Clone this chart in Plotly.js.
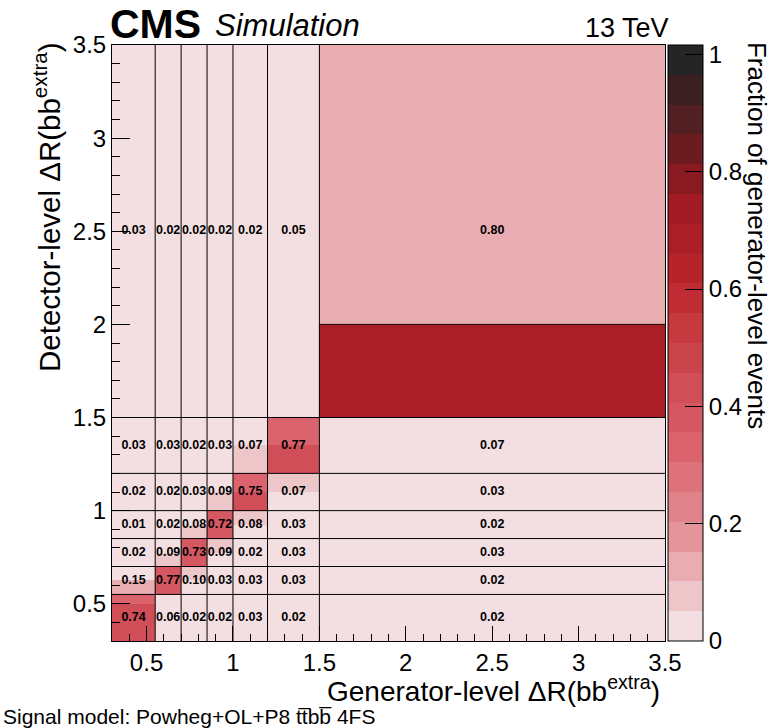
<!DOCTYPE html>
<html>
<head>
<meta charset="utf-8">
<script src="https://cdn.plot.ly/plotly-3.0.1.min.js"></script>
<style>html,body{margin:0;padding:0;background:#fff;}#chart{width:773px;height:728px;}</style>
</head>
<body>
<div id="chart"></div>
<script>
// Generator-level (x) bin edges
const xEdges = [0.3, 0.55, 0.7, 0.85, 1.0, 1.2, 1.5, 3.5];
// Detector-level coarse bin edges (text labels)
const yEdgesCoarse = [0.3, 0.55, 0.7, 0.85, 1.0, 1.2, 1.5, 3.5];
// Detector-level fine bin edges (colour cells)
const yEdgesFine = [0.3, 0.5, 0.55, 0.625, 0.7, 0.775, 0.85, 0.925, 1.0, 1.1, 1.2, 1.35, 1.5, 2.0, 3.5];

// Fine-bin fractions (rows bottom -> top, columns left -> right)
const fineFractions = [
  [0.43, 0.03, 0.01, 0.01, 0.02, 0.01, 0.01],
  [0.31, 0.03, 0.01, 0.01, 0.01, 0.01, 0.01],
  [0.12, 0.39, 0.03, 0.02, 0.02, 0.02, 0.01],
  [0.03, 0.38, 0.07, 0.01, 0.01, 0.01, 0.01],
  [0.01, 0.07, 0.37, 0.02, 0.01, 0.02, 0.02],
  [0.01, 0.02, 0.36, 0.07, 0.01, 0.01, 0.01],
  [0.005, 0.01, 0.06, 0.36, 0.02, 0.02, 0.01],
  [0.005, 0.01, 0.02, 0.36, 0.06, 0.01, 0.01],
  [0.01, 0.01, 0.02, 0.07, 0.44, 0.01, 0.02],
  [0.01, 0.01, 0.01, 0.02, 0.31, 0.06, 0.01],
  [0.02, 0.02, 0.01, 0.02, 0.06, 0.45, 0.04],
  [0.01, 0.01, 0.01, 0.01, 0.01, 0.32, 0.03],
  [0.02, 0.01, 0.01, 0.01, 0.01, 0.04, 0.69],
  [0.01, 0.01, 0.01, 0.01, 0.01, 0.01, 0.11]
];

// Coarse-bin fractions printed in the cells (rows bottom -> top)
const coarseFractions = [
  [0.74, 0.06, 0.02, 0.02, 0.03, 0.02, 0.02],
  [0.15, 0.77, 0.10, 0.03, 0.03, 0.03, 0.02],
  [0.02, 0.09, 0.73, 0.09, 0.02, 0.03, 0.03],
  [0.01, 0.02, 0.08, 0.72, 0.08, 0.03, 0.02],
  [0.02, 0.02, 0.03, 0.09, 0.75, 0.07, 0.03],
  [0.03, 0.03, 0.02, 0.03, 0.07, 0.77, 0.07],
  [0.03, 0.02, 0.02, 0.02, 0.02, 0.05, 0.80]
];

// Palette levels (bottom -> top)
const paletteColors = ['#F3DFE1','#EDC6C9','#E8ACB1','#E4959C','#E0828A','#DD727B','#DA636D','#D55761','#CF4E57','#C9444B','#C5393F','#C02C34','#B6232A','#AB1E27','#A11A24','#8A1A22','#6C1B20','#521F22','#3B2022','#252525'];
const zMax = 1.016;
const cbTicks = [0, 0.2, 0.4, 0.6, 0.8, 1];

const colorscale = [];
paletteColors.forEach((c, i) => {
  colorscale.push([i / paletteColors.length, c]);
  colorscale.push([(i + 1) / paletteColors.length, c]);
});

const font = 'Liberation Sans, Arial, sans-serif';

const heat = {
  type: 'heatmap',
  x: xEdges,
  y: yEdgesFine,
  z: fineFractions,
  zmin: 0, zmax: zMax,
  zsmooth: false,
  colorscale: colorscale,
  hoverinfo: 'skip',
  colorbar: {
    x: 1.006, xanchor: 'left', xpad: 0,
    y: 0.5, yanchor: 'middle', ypad: 0,
    len: 1, lenmode: 'fraction',
    thickness: 35, thicknessmode: 'pixels',
    outlinewidth: 1, outlinecolor: '#000',
    tickvals: cbTicks, ticktext: cbTicks.map(String),
    ticks: 'inside', ticklen: 18, tickcolor: '#000', tickwidth: 1,
    tickfont: {family: font, size: 24, color: '#000'}
  }
};

const cx = [], cy = [], ct = [];
for (let r = 0; r < coarseFractions.length; r++) {
  for (let c = 0; c < coarseFractions[r].length; c++) {
    cx.push((xEdges[c] + xEdges[c + 1]) / 2);
    cy.push((yEdgesCoarse[r] + yEdgesCoarse[r + 1]) / 2);
    ct.push('<b>' + coarseFractions[r][c].toFixed(2) + '</b>');
  }
}
const labels = {
  type: 'scatter', mode: 'text', x: cx, y: cy, text: ct,
  textposition: 'middle center', hoverinfo: 'skip', showlegend: false,
  textfont: {family: font, size: 12.5, color: '#000'}
};

const shapes = [];
xEdges.slice(1, -1).forEach(e => shapes.push({type: 'line', xref: 'x', yref: 'paper', x0: e, x1: e, y0: 0, y1: 1, layer: 'above', line: {color: '#000', width: 1}}));
yEdgesCoarse.slice(1, -1).forEach(e => shapes.push({type: 'line', xref: 'paper', yref: 'y', x0: 0, x1: 1, y0: e, y1: e, layer: 'above', line: {color: '#000', width: 1}}));
shapes.push({type: 'line', xref: 'x', yref: 'y', x0: xEdges[6], x1: xEdges[7], y0: yEdgesFine[13], y1: yEdgesFine[13], layer: 'above', line: {color: '#1a0a0a', width: 1}});

const axisCommon = {
  range: [0.3, 3.5], dtick: 0.5, tick0: 0.5,
  ticks: 'inside', tickcolor: '#000', tickwidth: 1,
  showline: true, mirror: true, linecolor: '#000', linewidth: 1,
  showgrid: false, zeroline: false,
  tickfont: {family: font, size: 24, color: '#000'},
  minor: {dtick: 0.1, tick0: 0, ticks: 'inside', tickcolor: '#000', tickwidth: 1, showgrid: false}
};

const layout = {
  width: 773, height: 728,
  margin: {l: 112, r: 105, t: 45, b: 87},
  paper_bgcolor: '#fff', plot_bgcolor: '#fff',
  showlegend: false,
  font: {family: font, color: '#000'},
  xaxis: Object.assign({}, axisCommon, {ticklen: 15, minor: Object.assign({}, axisCommon.minor, {ticklen: 7})}),
  yaxis: Object.assign({}, axisCommon, {ticklen: 18, minor: Object.assign({}, axisCommon.minor, {ticklen: 8})}),
  shapes: shapes,
  annotations: [
    {text: 'Generator-level ΔR(bb<sup>extra</sup>)', xref: 'paper', yref: 'paper', x: 0.995, y: -0.08, xanchor: 'right', yanchor: 'middle', showarrow: false, font: {family: font, size: 28, color: '#000'}},
    {text: 'Detector-level ΔR(bb<sup>extra</sup>)', xref: 'paper', yref: 'paper', x: -0.118, y: 1.008, xanchor: 'center', yanchor: 'top', textangle: -90, showarrow: false, font: {family: font, size: 29.5, color: '#000'}},
    {text: 'Fraction of generator-level events', xref: 'paper', yref: 'paper', x: 1.166, y: 1.008, xanchor: 'center', yanchor: 'top', textangle: 90, showarrow: false, font: {family: font, size: 26, color: '#000'}},
    {text: '<b>CMS</b>', xref: 'paper', yref: 'paper', x: -0.008, y: 0.993, xanchor: 'left', yanchor: 'bottom', showarrow: false, font: {family: font, size: 41, color: '#000'}},
    {text: '<i>Simulation</i>', xref: 'paper', yref: 'paper', x: 0.183, y: 1.0, xanchor: 'left', yanchor: 'bottom', showarrow: false, font: {family: font, size: 31, color: '#000'}},
    {text: '13 TeV', xref: 'paper', yref: 'paper', x: 1.01, y: 1.0, xanchor: 'right', yanchor: 'bottom', showarrow: false, font: {family: font, size: 27, color: '#000'}},
    {text: 'Signal model: Powheg+OL+P8 tt\u0305bb\u0305 4FS', xref: 'paper', yref: 'paper', x: -0.2014, y: -0.126, xanchor: 'left', yanchor: 'middle', showarrow: false, font: {family: font, size: 21, color: '#000'}}
  ]
};

Plotly.newPlot('chart', [heat, labels], layout, {displayModeBar: false, staticPlot: true});
</script>
</body>
</html>
